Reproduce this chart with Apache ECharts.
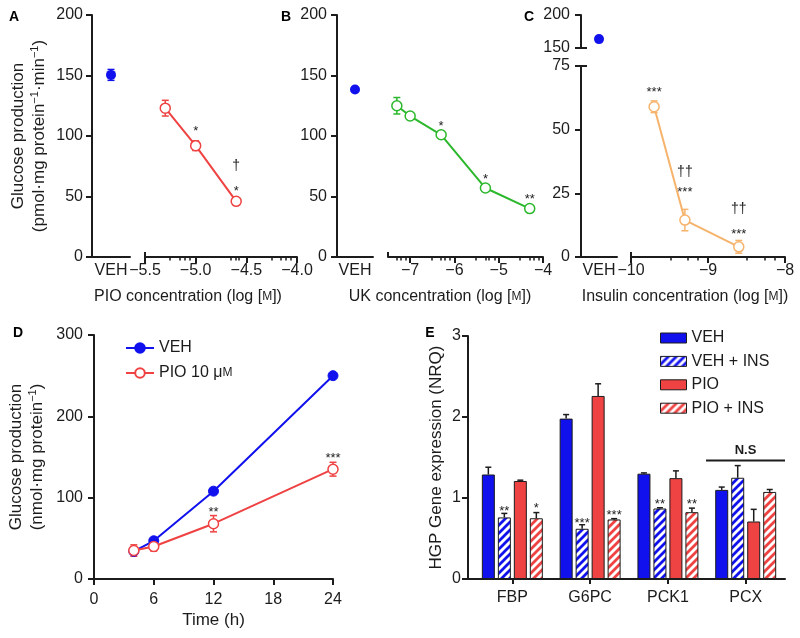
<!DOCTYPE html>
<html><head><meta charset="utf-8">
<script src="https://cdn.jsdelivr.net/npm/echarts@6/dist/echarts.min.js"></script>
<style>html,body{margin:0;padding:0;background:#fff}#c{width:800px;height:638px}</style>
</head><body><div id="c"></div>
<script>
// ---------------- data ----------------
const vehCat = ['VEH'];
// Panel A (PIO)
const aVeh = [150.5];
const aVehErr = [4.5];
const aPioX = [-5.3, -5.0, -4.6];
const aPioY = [123, 92, 46];
const aPioErr = [6.5, 4, 1];
const aTicks = [-5.5, -5.0, -4.5, -4.0];
const aMinor = [-5.26, -5.16, -5.11, -5.06, -4.65, -4.60, -4.57, -4.25, -4.16, -4.11, -4.06];
const aMarks = [[-5.0, 106, '*'], [-4.6, 75, '†'], [-4.6, 57, '*']];
// Panel B (UK)
const bVeh = [138.5];
const bUkX = [-7.3, -7.0, -6.3, -5.3, -4.3];
const bUkY = [125, 116.5, 101, 57, 40];
const bUkErr = [6.8, 1, 1, 1, 1];
const bTicks = [-7, -6, -5, -4];
const bMinor = [-7.30, -7.22, -7.10, -6.52, -6.30, -6.22, -6.10, -5.52, -5.30, -5.22, -5.10, -4.52, -4.30, -4.22, -4.10];
const bMarks = [[-6.3, 110, '*'], [-5.3, 66.4, '*'], [-4.3, 50.4, '**']];
// Panel C (Insulin)
const cVeh = [163.5];
const cInsX = [-9.7, -9.3, -8.6];
const cInsY = [59, 14.5, 4];
const cInsErr = [2.3, 4.2, 2.5];
const cTicks = [-10, -9, -8];
const cMinor = [-9.49, -9.26, -9.13, -8.50, -8.26, -8.13];
const cMarks = [[-9.7, 65.8, '***'], [-9.3, 33.5, '††'], [-9.3, 26.6, '***'], [-8.6, 18.7, '††'], [-8.6, 10.2, '***']];
// Panel D (time course)
const dTime = [4, 6, 12, 24];
const dVeh = [34, 47, 108, 250];
const dVehErr = [3, 2, 2, 2];
const dPio = [35, 40, 68, 135];
const dPioErr = [7, 5.7, 10, 8.5];
const dMarks = [[12, 86, '**'], [24, 151.6, '***']];
// Panel E (gene expression)
const genes = ['FBP', 'G6PC', 'PCK1', 'PCX'];
const eVeh = [1.29, 1.98, 1.30, 1.10];
const eVehErr = [0.09, 0.05, 0.01, 0.035];
const eVehIns = [0.76, 0.62, 0.87, 1.25];
const eVehInsErr = [0.05, 0.05, 0.01, 0.15];
const ePio = [1.21, 2.26, 1.245, 0.71];
const ePioErr = [0.01, 0.15, 0.09, 0.15];
const ePioIns = [0.75, 0.735, 0.825, 1.075];
const ePioInsErr = [0.07, 0.01, 0.05, 0.03];
const eMarks = [[0, 1, 0.873, '**'], [0, 3, 0.911, '*'], [1, 1, 0.726, '***'], [1, 3, 0.816, '***'], [2, 1, 0.952, '**'], [2, 3, 0.960, '**']];
const eNS = [2.49, 3.505, 1.464, 'N.S'];

// ---------------- styles ----------------
const FONT = '"Liberation Sans", Arial, Helvetica, sans-serif';
const INK = '#1c1c1c';
const BLUE = '#1111ee', RED = '#ef4242', GREEN = '#2cb82c', ORANGE = '#f6b36c';
const lbl = {color: INK, fontSize: 16, fontFamily: FONT};
const nm = {color: INK, fontSize: 17, fontFamily: FONT};
const AX = {color: INK, width: 2};

const grids = [], xAxes = [], yAxes = [], series = [], graphics = [];
function G(l, t, w, h) { grids.push({left: l, top: t, width: w, height: h, containLabel: false, outerBoundsMode: 'none'}); return grids.length - 1; }
function X(o) { xAxes.push(Object.assign({splitLine: {show: false}}, o)); return xAxes.length - 1; }
function Y(o) { yAxes.push(Object.assign({splitLine: {show: false}}, o)); return yAxes.length - 1; }
function vehX(g, show) {
  return X({gridIndex: g, type: 'category', data: vehCat, position: 'bottom',
    axisLine: {show: show, onZero: false, lineStyle: AX}, axisTick: {show: false},
    axisLabel: {show: show, margin: 6, ...lbl}});
}
function valY(g, min, max, interval, show, extra, margin) {
  return Y(Object.assign({gridIndex: g, type: 'value', min, max, interval, position: 'left',
    axisLine: {show, onZero: false, lineStyle: AX}, axisTick: {show, length: 6, lineStyle: AX},
    axisLabel: {show, margin: margin || 10, ...lbl}}, extra || {}));
}
function capY(g, min, max, val) {
  return Y({gridIndex: g, type: 'value', min, max, position: 'left', axisLine: {show: false},
    axisTick: {show: true, inside: true, length: 6, customValues: [val], lineStyle: AX}, axisLabel: {show: false}});
}
function logX(g, min, max, majors, minors, fmt) {
  const m = X({gridIndex: g, type: 'value', min, max, position: 'bottom',
    axisLine: {show: true, onZero: false, lineStyle: AX},
    axisTick: {show: true, length: 6, customValues: majors, lineStyle: AX},
    axisLabel: {show: true, margin: 6, customValues: majors, formatter: fmt, ...lbl}});
  X({gridIndex: g, type: 'value', min, max, position: 'bottom', axisLine: {show: false, onZero: false},
    axisTick: {show: true, length: 3.5, customValues: minors, lineStyle: {color: INK, width: 1.5}}, axisLabel: {show: false}});
  X({gridIndex: g, type: 'value', min, max, position: 'bottom', axisLine: {show: false, onZero: false},
    axisTick: {show: true, inside: true, length: 5, customValues: [min], lineStyle: AX}, axisLabel: {show: false}});
  return m;
}
const fmt1 = v => (v < 0 ? '\u2212' : '') + Math.abs(v).toFixed(1);
const fmt0 = v => (v < 0 ? '\u2212' : '') + Math.abs(v).toFixed(0);

function errSeries(xi, yi, rows, color) {
  return {type: 'custom', xAxisIndex: xi, yAxisIndex: yi, silent: true, z: 2, data: rows,
    encode: {x: 0, y: 1},
    renderItem: (p, api) => {
      const x = api.value(0), y = api.value(1), e = api.value(2);
      const hi = api.coord([x, y + e]), lo = api.coord([x, y - e]);
      const w = 3.5, st = {stroke: color, lineWidth: 1.5};
      return {type: 'group', children: [
        {type: 'line', shape: {x1: hi[0], y1: hi[1], x2: lo[0], y2: lo[1]}, style: st},
        {type: 'line', shape: {x1: hi[0] - w, y1: hi[1], x2: hi[0] + w, y2: hi[1]}, style: st},
        {type: 'line', shape: {x1: lo[0] - w, y1: lo[1], x2: lo[0] + w, y2: lo[1]}, style: st}]};
    }};
}
function lineSeries(xi, yi, xs, ys, color, hollow, name) {
  const s = {type: 'line', xAxisIndex: xi, yAxisIndex: yi, data: xs.map((x, i) => [x, ys[i]]),
    symbol: 'circle', symbolSize: 10, showSymbol: true, z: 3, emphasis: {disabled: true},
    lineStyle: {color, width: 2},
    itemStyle: hollow ? {color: '#fff', borderColor: color, borderWidth: 1.5, opacity: 1} : {color, borderColor: color, borderWidth: 1, opacity: 1}};
  if (name) s.name = name;
  return s;
}
function vehPoint(xi, yi, vals) {
  return {type: 'scatter', xAxisIndex: xi, yAxisIndex: yi, data: vals.map((v, i) => [vehCat[i], v]),
    symbol: 'circle', symbolSize: 10, itemStyle: {color: BLUE, opacity: 1}, z: 3, emphasis: {disabled: true}};
}
function markSeries(xi, yi, marks) {
  return {type: 'custom', xAxisIndex: xi, yAxisIndex: yi, silent: true, z: 10,
    data: marks.map(m => [m[0], m[1]]), encode: {x: 0, y: 1},
    renderItem: (p, api) => {
      const pt = api.coord([api.value(0), api.value(1)]);
      const t = marks[p.dataIndex][2];
      const star = t.indexOf('*') >= 0;
      return {type: 'text', x: pt[0], y: pt[1] + (star ? 3 : 0),
        style: {text: t, fill: INK, fontSize: star ? 13 : 14, fontFamily: FONT, align: 'center', verticalAlign: 'middle'}};
    }};
}
function stripes(color) {
  const c = document.createElement('canvas'); c.width = 8; c.height = 8;
  const x = c.getContext('2d');
  x.fillStyle = '#fff'; x.fillRect(0, 0, 8, 8);
  x.strokeStyle = color; x.lineWidth = 2.8; x.beginPath();
  x.moveTo(-4, 4); x.lineTo(4, -4);
  x.moveTo(-4, 12); x.lineTo(12, -4);
  x.moveTo(4, 12); x.lineTo(12, 4);
  x.stroke();
  return {image: c, repeat: 'repeat'};
}
const supRich = {
  a: {fontSize: 17, fontFamily: FONT, color: INK, lineHeight: 21},
  s: {fontSize: 11, fontFamily: FONT, color: INK, lineHeight: 11, verticalAlign: 'top'}
};

// ---------------- Panel A ----------------
const gA0 = G(92, 15, 38, 242), gA1 = G(145, 15, 152, 242);
const xA0 = vehX(gA0, true);
const yA0 = valY(gA0, 0, 200, 50, true, {name: '{a|Glucose production}\n{a|(pmol\u00b7mg protein}{s|\u22121}{a|\u00b7min}{s|\u22121}{a|)}',
  nameLocation: 'middle', nameRotate: 90, nameGap: 42, nameMoveOverlap: false, nameTextStyle: {rich: supRich}}, 9);
const xA1 = logX(gA1, -5.5, -4.0, aTicks, aMinor, fmt1);
const yA1 = valY(gA1, 0, 200, 50, false);
series.push(errSeries(xA0, yA0, aVeh.map((v, i) => [0, v, aVehErr[i]]), BLUE));
series.push(vehPoint(xA0, yA0, aVeh));
series.push(errSeries(xA1, yA1, aPioX.map((x, i) => [x, aPioY[i], aPioErr[i]]), RED));
series.push(lineSeries(xA1, yA1, aPioX, aPioY, RED, true));
series.push(markSeries(xA1, yA1, aMarks));

// ---------------- Panel B ----------------
const gB0 = G(337, 15, 36, 242), gB1 = G(388, 15, 155, 242);
const xB0 = vehX(gB0, true);
const yB0 = valY(gB0, 0, 200, 50, true, null, 10);
const xB1 = logX(gB1, -7.5, -4.0, bTicks, bMinor, fmt0);
const yB1 = valY(gB1, 0, 200, 50, false);
series.push(vehPoint(xB0, yB0, bVeh));
series.push(errSeries(xB1, yB1, bUkX.map((x, i) => [x, bUkY[i], bUkErr[i]]), GREEN));
series.push(lineSeries(xB1, yB1, bUkX, bUkY, GREEN, true));
series.push(markSeries(xB1, yB1, bMarks));

// ---------------- Panel C ----------------
const gC0t = G(581, 15, 36, 33), gC0b = G(581, 66, 36, 191), gC1 = G(631, 66, 154, 191);
const xC0t = vehX(gC0t, false);
const yC0t = valY(gC0t, 150, 200, 50, true, null, 11);
capY(gC0t, 150, 200, 150);
const xC0b = vehX(gC0b, true);
const yC0b = valY(gC0b, 0, 75, 25, true, null, 11);
capY(gC0b, 0, 75, 75);
const xC1 = logX(gC1, -10, -8, cTicks, cMinor, fmt0);
const yC1 = valY(gC1, 0, 75, 25, false);
series.push(vehPoint(xC0t, yC0t, cVeh));
series.push(errSeries(xC1, yC1, cInsX.map((x, i) => [x, cInsY[i], cInsErr[i]]), ORANGE));
series.push(lineSeries(xC1, yC1, cInsX, cInsY, ORANGE, true));
series.push(markSeries(xC1, yC1, cMarks));

// ---------------- Panel D ----------------
const gD = G(94, 335, 239, 244);
const xD = X({gridIndex: gD, type: 'value', min: 0, max: 24, interval: 6, position: 'bottom',
  axisLine: {show: true, onZero: false, lineStyle: AX}, axisTick: {show: true, length: 6, lineStyle: AX},
  axisLabel: {margin: 13, ...lbl}, name: 'Time (h)', nameLocation: 'middle', nameGap: 33, nameTextStyle: nm});
const yD = valY(gD, 0, 300, 100, true, {name: '{a|Glucose production}\n{a|(nmol\u00b7mg protein}{s|\u22121}{a|)}',
  nameLocation: 'middle', nameRotate: 90, nameGap: 46, nameMoveOverlap: false, nameTextStyle: {rich: supRich}}, 11);
series.push(errSeries(xD, yD, dTime.map((t, i) => [t, dVeh[i], dVehErr[i]]), BLUE));
series.push(errSeries(xD, yD, dTime.map((t, i) => [t, dPio[i], dPioErr[i]]), RED));
series.push(lineSeries(xD, yD, dTime, dVeh, BLUE, false, 'dVEH'));
series.push(lineSeries(xD, yD, dTime, dPio, RED, true, 'dPIO'));
series.push(markSeries(xD, yD, dMarks));

// ---------------- Panel E ----------------
const gE = G(468, 336, 317, 243);
const xE = X({gridIndex: gE, type: 'value', min: -0.57, max: 3.505, position: 'bottom',
  axisLine: {show: true, onZero: false, lineStyle: AX},
  axisTick: {show: true, length: 5, customValues: [0, 1, 2, 3], lineStyle: AX},
  axisLabel: {customValues: [0, 1, 2, 3], formatter: v => genes[Math.round(v)], margin: 11, ...lbl}});
const yE = valY(gE, 0, 3, 1, true, {name: 'HGP Gene expression (NRQ)', nameLocation: 'middle', nameRotate: 90,
  nameGap: 23, nameMoveOverlap: false, nameTextStyle: nm}, 7);
const eSets = [
  ['VEH', eVeh, eVehErr, BLUE],
  ['VEH + INS', eVehIns, eVehInsErr, stripes(BLUE)],
  ['PIO', ePio, ePioErr, RED],
  ['PIO + INS', ePioIns, ePioInsErr, stripes(RED)]
];
eSets.forEach((s) => {
  series.push({type: 'bar', name: s[0], xAxisIndex: xE, yAxisIndex: yE, barWidth: 13, barGap: '23%',
    data: s[1].map((v, i) => [i, v]), itemStyle: {color: s[3], borderColor: INK, borderWidth: 1},
    emphasis: {disabled: true}, z: 2});
});
const eErrRows = [];
eSets.forEach((s, k) => s[1].forEach((v, i) => eErrRows.push([i, k, v, s[2][i]])));
series.push({type: 'custom', xAxisIndex: xE, yAxisIndex: yE, silent: true, z: 5, data: eErrRows, encode: {x: 0, y: 2},
  renderItem: (p, api) => {
    const g = api.value(0), k = api.value(1), v = api.value(2), e = api.value(3);
    const b = api.coord([g, v]), t = api.coord([g, v + e]);
    const cx = b[0] + (k - 1.5) * 16, w = 3, st = {stroke: INK, lineWidth: 1.5};
    return {type: 'group', children: [
      {type: 'line', shape: {x1: cx, y1: b[1], x2: cx, y2: t[1]}, style: st},
      {type: 'line', shape: {x1: cx - w, y1: t[1], x2: cx + w, y2: t[1]}, style: st}]};
  }});
series.push({type: 'custom', xAxisIndex: xE, yAxisIndex: yE, silent: true, z: 10,
  data: eMarks.map(m => [m[0], m[1], m[2]]), encode: {x: 0, y: 2},
  renderItem: (p, api) => {
    const g = api.value(0), k = api.value(1), v = api.value(2);
    const pt = api.coord([g, v]);
    return {type: 'text', x: pt[0] + (k - 1.5) * 16, y: pt[1] + 3,
      style: {text: eMarks[p.dataIndex][3], fill: INK, fontSize: 13, fontFamily: FONT, align: 'center', verticalAlign: 'middle'}};
  }});
// N.S bracket
series.push({type: 'custom', xAxisIndex: xE, yAxisIndex: yE, silent: true, z: 10,
  data: [[eNS[0], eNS[2], eNS[1]]], encode: {x: 0, y: 1},
  renderItem: (p, api) => {
    const a = api.coord([api.value(0), api.value(1)]), b = api.coord([api.value(2), api.value(1)]);
    return {type: 'group', children: [
      {type: 'line', shape: {x1: a[0], y1: a[1], x2: b[0], y2: b[1]}, style: {stroke: INK, lineWidth: 2}},
      {type: 'text', x: (a[0] + b[0]) / 2, y: a[1] - 10,
        style: {text: eNS[3], fill: INK, fontSize: 13, fontWeight: 'bold', fontFamily: FONT, align: 'center', verticalAlign: 'middle'}}]};
  }});

// ---------------- texts ----------------
function letter(t, x, y) { graphics.push({type: 'text', x, y, style: {text: t, fill: '#000', fontSize: 14, fontWeight: 'bold', fontFamily: FONT, align: 'center', verticalAlign: 'middle'}}); }
letter('A', 14, 17); letter('B', 286, 17); letter('C', 529, 17); letter('D', 18, 333); letter('E', 430, 333);
const nameRich = {a: {fontSize: 16, fontFamily: FONT, fill: INK}, s: {fontSize: 12, fontFamily: FONT, fill: INK}};
function xname(pre, x) { graphics.push({type: 'text', x, y: 297, style: {text: '{a|' + pre + ' concentration (log [}{s|M}{a|])}', rich: nameRich, align: 'center', verticalAlign: 'middle'}}); }
xname('PIO', 188); xname('UK', 440); xname('Insulin', 685);

const chart = echarts.init(document.getElementById('c'), null, {renderer: 'canvas'});
chart.setOption({
  animation: false,
  backgroundColor: '#fff',
  textStyle: {fontFamily: FONT},
  grid: grids, xAxis: xAxes, yAxis: yAxes, series: series, graphic: graphics,
  legend: [
    {data: ['dVEH', 'dPIO'], left: 125, top: 340, orient: 'vertical', itemWidth: 28, itemHeight: 12, itemGap: 9,
      padding: 0, selectedMode: false,
      formatter: n => n === 'dVEH' ? '{a|VEH}' : '{a|PIO 10 \u03bc}{s|M}',
      textStyle: {rich: {a: {fontSize: 16, fontFamily: FONT, color: INK}, s: {fontSize: 12, fontFamily: FONT, color: INK}}}},
    {data: ['VEH', 'VEH + INS', 'PIO', 'PIO + INS'], left: 660, top: 330, orient: 'vertical', icon: 'rect',
      itemWidth: 26, itemHeight: 10, itemGap: 7.4, padding: 0, selectedMode: false,
      itemStyle: {borderColor: INK, borderWidth: 1},
      textStyle: {fontSize: 16, fontFamily: FONT, color: INK}}
  ]
});
</script></body></html>
